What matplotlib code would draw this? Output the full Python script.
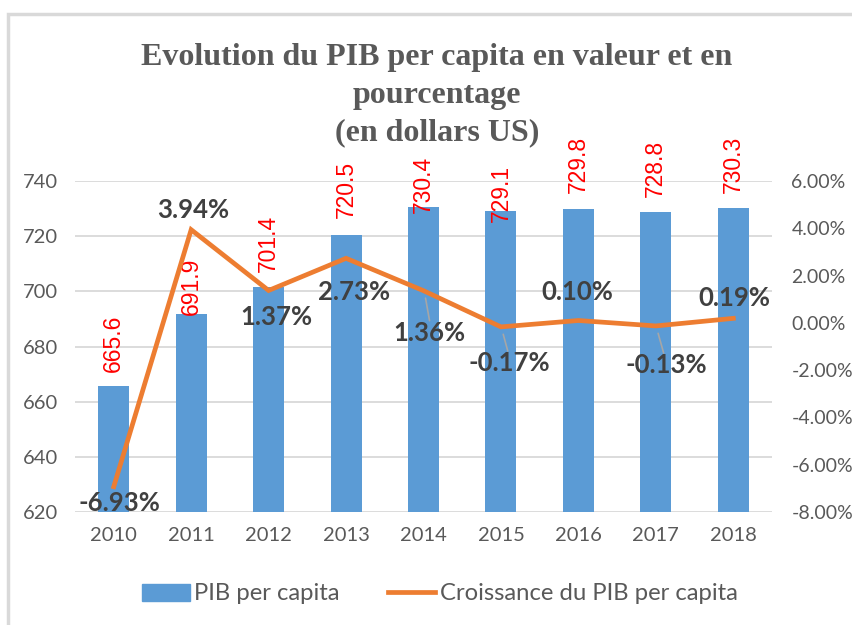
import matplotlib
matplotlib.use("Agg")
import matplotlib.pyplot as plt
from matplotlib.patches import Patch, Rectangle
from matplotlib.lines import Line2D
from matplotlib.ticker import FuncFormatter

# === DATA ===
years = ["2010", "2011", "2012", "2013", "2014", "2015", "2016", "2017", "2018"]
pib_per_capita = [665.6, 691.9, 701.4, 720.5, 730.4, 729.1, 729.8, 728.8, 730.3]
croissance_pct = [-6.93, 3.94, 1.37, 2.73, 1.36, -0.17, 0.10, -0.13, 0.19]

title_lines = ["Evolution du PIB per capita en valeur et en",
               "pourcentage",
               "(en dollars US)"]
bar_name = "PIB per capita"
line_name = "Croissance du PIB per capita"

# label placement (manual tweaks, like in the original sheet)
bar_label_shift = [5, -0.5, 5.5, 6, -2, -4, 6, 5.5, 5.5]          # data units above bar top
pct_label_offset = [(6, -16), (2, 20), (8, -27), (8, -34), (6, -42),
                    (8, -36), (-1, 28), (10, -39), (1, 20)]        # pixels from point
leader = [False, False, False, False, True, True, False, True, False]

# === STYLE ===
BLUE = "#5B9BD5"
ORANGE = "#ED7D31"
GRID = "#D9D9D9"
TXT = "#595959"
DARK = "#404040"
SANS = ["Lato", "DejaVu Sans"]

fig = plt.figure(figsize=(8.53, 6.25), dpi=100)
fig.patches.append(Rectangle((8 / 853, -0.1), 1.2, 1 - 14 / 625 + 0.1,
                             transform=fig.transFigure, fill=False,
                             edgecolor=GRID, linewidth=2.5))

ax = fig.add_axes([75 / 853, 1 - 512 / 625, 697 / 853, 331 / 625])
x = list(range(len(years)))
ax.bar(x, pib_per_capita, width=0.4, color=BLUE, zorder=2)
ax.set_ylim(620, 740)
ax.set_yticks(range(620, 741, 20))
ax.set_xlim(-0.5, len(years) - 0.5)
ax.set_xticks(x)
ax.set_xticklabels(years)
ax.grid(axis="y", color=GRID, linewidth=1.3, zorder=0)
ax.set_axisbelow(True)
for s in ax.spines.values():
    s.set_visible(False)
ax.tick_params(length=0, colors=TXT, labelsize=14.5)
ax.tick_params(axis="y", pad=12)
ax.tick_params(axis="x", pad=11)
for lab in ax.get_xticklabels() + ax.get_yticklabels():
    lab.set_family(SANS)

for i, v in enumerate(pib_per_capita):
    ax.text(i, v + bar_label_shift[i], f"{v:.1f}", rotation=90, ha="center",
            va="bottom", color="red", fontsize=16.5, family="Liberation Sans",
            zorder=5)

ax2 = ax.twinx()
ax2.plot(x, croissance_pct, color=ORANGE, linewidth=3.4, solid_joinstyle="miter",
         zorder=3)
ax2.set_ylim(-8, 6)
ax2.set_yticks(range(-8, 7, 2))
ax2.yaxis.set_major_formatter(FuncFormatter(lambda v, p: f"{v:.2f}%"))
for s in ax2.spines.values():
    s.set_visible(False)
ax2.tick_params(length=0, colors=TXT, labelsize=14, pad=14)
for lab in ax2.get_yticklabels():
    lab.set_family(SANS)

for i, v in enumerate(croissance_pct):
    dx, dy = pct_label_offset[i]
    ax2.annotate(f"{v:.2f}%", (i, v), xytext=(dx, dy), textcoords="offset pixels",
                 ha="center", va="center", fontsize=18.5, fontweight="bold",
                 color=DARK, family=SANS, zorder=6)
    if leader[i]:
        ax2.annotate("", (i + 0.02, v - 0.2), xytext=(dx * 0.5 + 2, dy + 14),
                     textcoords="offset pixels",
                     arrowprops=dict(arrowstyle="-", color="#A6A6A6", lw=1.2))

for k, line in enumerate(title_lines):
    fig.text(437 / 853, 1 - (57 + 38 * k) / 625, line, ha="center", va="center",
             family="Liberation Serif", fontweight="bold", fontsize=23,
             color=TXT)

handles = [Patch(facecolor=BLUE, edgecolor=BLUE),
           Line2D([0], [0], color=ORANGE, linewidth=3.4)]
leg = fig.legend(handles, [bar_name, line_name], loc="center",
                 bbox_to_anchor=(440 / 853, 1 - 594 / 625), ncol=2, frameon=False,
                 prop={"family": SANS, "size": 17.2}, handlelength=2.0,
                 handletextpad=0.2, columnspacing=2.0)
for t in leg.get_texts():
    t.set_color(TXT)

fig.savefig("out.png", dpi=100)
